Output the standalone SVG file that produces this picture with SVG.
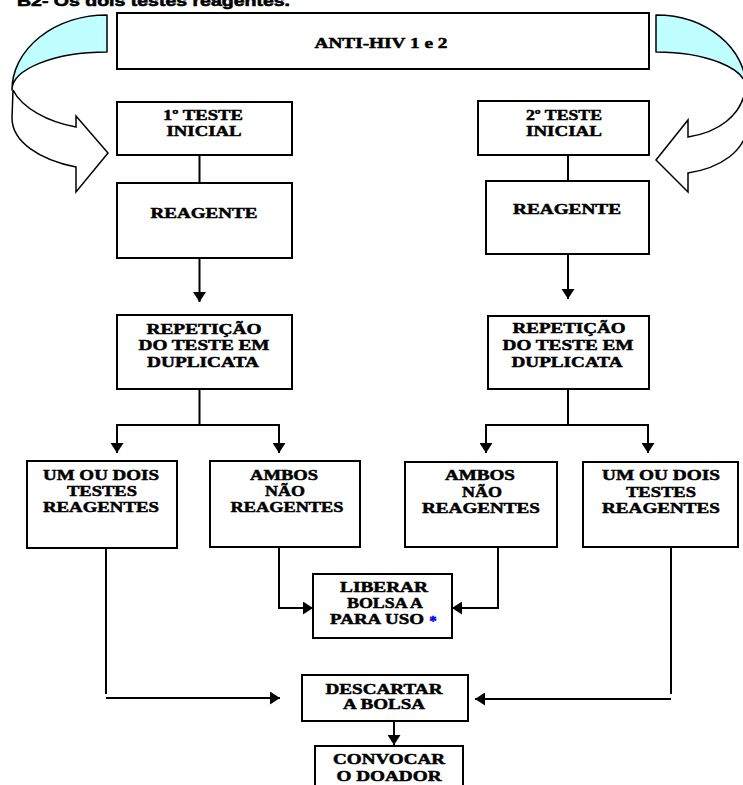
<svg xmlns="http://www.w3.org/2000/svg" width="743" height="785" viewBox="0 0 743 785">
<style>
.box{fill:#fff;stroke:#000;stroke-width:2}
.ln{fill:none;stroke:#000;stroke-width:2}
.t{font-family:"Liberation Serif","Times New Roman",serif;font-weight:bold;font-size:15px;text-anchor:middle;fill:#000;stroke:#000;stroke-width:0.5}
.h{font-family:"Liberation Sans",Arial,sans-serif;font-weight:bold;font-size:15px;fill:#000;stroke:#000;stroke-width:0.6}
.cy{fill:#c0ffff;stroke:#000;stroke-width:1.5;stroke-linejoin:round}
.wh{fill:#fff;stroke:#000;stroke-width:1.5;stroke-linejoin:miter}
</style>
<defs>
<marker id="ah" viewBox="0 0 10 10" refX="10" refY="5" markerWidth="10" markerHeight="13" markerUnits="userSpaceOnUse" orient="auto" preserveAspectRatio="none">
<path d="M0,0 L10,5 L0,10 Z" fill="#000"/>
</marker>
</defs>
<rect width="743" height="785" fill="#fff"/>
<text class="h" x="17" y="6" textLength="273" lengthAdjust="spacingAndGlyphs">B2- Os dois testes reagentes.</text>

<g id="curved-arrow-left">
<path class="wh" d="M13,90 C22,108 48,122 76,127 L76,116 L108,153 L76,192 L76,167 C40,160 12,142 12,118 Z"/>
<path class="cy" d="M107,15 A95,75 0 0 0 12,90 A95,38 0 0 1 107,52 Z"/>
</g>
<g id="curved-arrow-right">
<path class="wh" d="M745,92 C740,115 720,132 688,137 L688,120 L656,160 L688,192 L688,173 C720,168 745,152 748,125 Z"/>
<path class="cy" d="M656,15 A90,73 0 0 1 746,88 A90,36 0 0 0 656,52 Z"/>
</g>

<g id="connectors">
<path class="ln" d="M199.5,155 V183"/>
<path class="ln" d="M199.5,258 V302" marker-end="url(#ah)"/>
<path class="ln" d="M199.5,389 V425 M117,425 H279"/>
<path class="ln" d="M117,424 V453" marker-end="url(#ah)"/>
<path class="ln" d="M279,424 V453" marker-end="url(#ah)"/>
<path class="ln" d="M568,155 V181"/>
<path class="ln" d="M568,254 V299" marker-end="url(#ah)"/>
<path class="ln" d="M568,389 V425 M486,425 H648"/>
<path class="ln" d="M486,424 V453" marker-end="url(#ah)"/>
<path class="ln" d="M648,424 V453" marker-end="url(#ah)"/>
<path class="ln" d="M106,548 V694"/>
<path class="ln" d="M106,698 H280" marker-end="url(#ah)"/>
<path class="ln" d="M279,547 V608 H313" marker-end="url(#ah)"/>
<path class="ln" d="M498,547 V608 H452" marker-end="url(#ah)"/>
<path class="ln" d="M671,547 V694"/>
<path class="ln" d="M671,699 H475" marker-end="url(#ah)"/>
<path class="ln" d="M394,721 V745" marker-end="url(#ah)"/>
</g>

<g id="anti-hiv">
<rect class="box" x="117" y="13" width="532" height="56"/>
<text class="t" x="381" y="48" textLength="133" lengthAdjust="spacingAndGlyphs">ANTI-HIV 1 e 2</text>
</g>
<g id="teste1">
<rect class="box" x="117" y="102" width="175" height="53"/>
<text class="t" x="203" y="120" textLength="80" lengthAdjust="spacingAndGlyphs">1º TESTE</text>
<text class="t" x="204" y="136" textLength="75" lengthAdjust="spacingAndGlyphs">INICIAL</text>
</g>
<g id="reagente1">
<rect class="box" x="117" y="183" width="175" height="75"/>
<text class="t" x="204" y="218" textLength="107" lengthAdjust="spacingAndGlyphs">REAGENTE</text>
</g>
<g id="repeticao1">
<rect class="box" x="117" y="315" width="175" height="74"/>
<text class="t" x="204" y="334" textLength="115" lengthAdjust="spacingAndGlyphs">REPETIÇÃO</text>
<text class="t" x="204" y="350" textLength="131" lengthAdjust="spacingAndGlyphs">DO TESTE EM</text>
<text class="t" x="203" y="367" textLength="112" lengthAdjust="spacingAndGlyphs">DUPLICATA</text>
</g>
<g id="um-ou-dois1">
<rect class="box" x="27" y="461" width="150" height="87"/>
<text class="t" x="101" y="480" textLength="116" lengthAdjust="spacingAndGlyphs">UM OU DOIS</text>
<text class="t" x="102" y="496" textLength="70" lengthAdjust="spacingAndGlyphs">TESTES</text>
<text class="t" x="101" y="512" textLength="116" lengthAdjust="spacingAndGlyphs">REAGENTES</text>
</g>
<g id="ambos1">
<rect class="box" x="210" y="461" width="150" height="86"/>
<text class="t" x="284" y="480" textLength="68" lengthAdjust="spacingAndGlyphs">AMBOS</text>
<text class="t" x="285" y="496" textLength="40" lengthAdjust="spacingAndGlyphs">NÃO</text>
<text class="t" x="287" y="512" textLength="113" lengthAdjust="spacingAndGlyphs">REAGENTES</text>
</g>

<g id="teste2">
<rect class="box" x="478" y="101" width="171" height="54"/>
<text class="t" x="564" y="120" textLength="76" lengthAdjust="spacingAndGlyphs">2º TESTE</text>
<text class="t" x="564" y="136" textLength="76" lengthAdjust="spacingAndGlyphs">INICIAL</text>
</g>
<g id="reagente2">
<rect class="box" x="486" y="181" width="163" height="73"/>
<text class="t" x="567" y="214" textLength="108" lengthAdjust="spacingAndGlyphs">REAGENTE</text>
</g>
<g id="repeticao2">
<rect class="box" x="488" y="316" width="161" height="73"/>
<text class="t" x="569" y="333" textLength="113" lengthAdjust="spacingAndGlyphs">REPETIÇÃO</text>
<text class="t" x="568" y="350" textLength="131" lengthAdjust="spacingAndGlyphs">DO TESTE EM</text>
<text class="t" x="567" y="367" textLength="111" lengthAdjust="spacingAndGlyphs">DUPLICATA</text>
</g>
<g id="ambos2">
<rect class="box" x="405" y="462" width="152" height="85"/>
<text class="t" x="480" y="480" textLength="70" lengthAdjust="spacingAndGlyphs">AMBOS</text>
<text class="t" x="482" y="497" textLength="40" lengthAdjust="spacingAndGlyphs">NÃO</text>
<text class="t" x="481" y="513" textLength="118" lengthAdjust="spacingAndGlyphs">REAGENTES</text>
</g>
<g id="um-ou-dois2">
<rect class="box" x="583" y="462" width="155" height="85"/>
<text class="t" x="661" y="480" textLength="118" lengthAdjust="spacingAndGlyphs">UM OU DOIS</text>
<text class="t" x="661" y="497" textLength="70" lengthAdjust="spacingAndGlyphs">TESTES</text>
<text class="t" x="661" y="513" textLength="118" lengthAdjust="spacingAndGlyphs">REAGENTES</text>
</g>

<g id="liberar">
<rect class="box" x="313" y="574" width="139" height="64"/>
<text class="t" x="384" y="592" textLength="88" lengthAdjust="spacingAndGlyphs">LIBERAR</text>
<text class="t" x="385" y="608" textLength="76" lengthAdjust="spacingAndGlyphs">BOLSA A</text>
<text class="t" x="377" y="624" textLength="94" lengthAdjust="spacingAndGlyphs">PARA USO</text>
<text class="t" x="433" y="626" style="fill:#0000ff;stroke:#0000ff">*</text>
</g>
<g id="descartar">
<rect class="box" x="302" y="675" width="166" height="46"/>
<text class="t" x="384" y="694" textLength="117" lengthAdjust="spacingAndGlyphs">DESCARTAR</text>
<text class="t" x="384" y="709" textLength="82" lengthAdjust="spacingAndGlyphs">A BOLSA</text>
</g>
<g id="convocar">
<rect class="box" x="315" y="746" width="148" height="50"/>
<text class="t" x="389" y="764" textLength="112" lengthAdjust="spacingAndGlyphs">CONVOCAR</text>
<text class="t" x="389" y="781" textLength="105" lengthAdjust="spacingAndGlyphs">O DOADOR</text>
</g>
</svg>
